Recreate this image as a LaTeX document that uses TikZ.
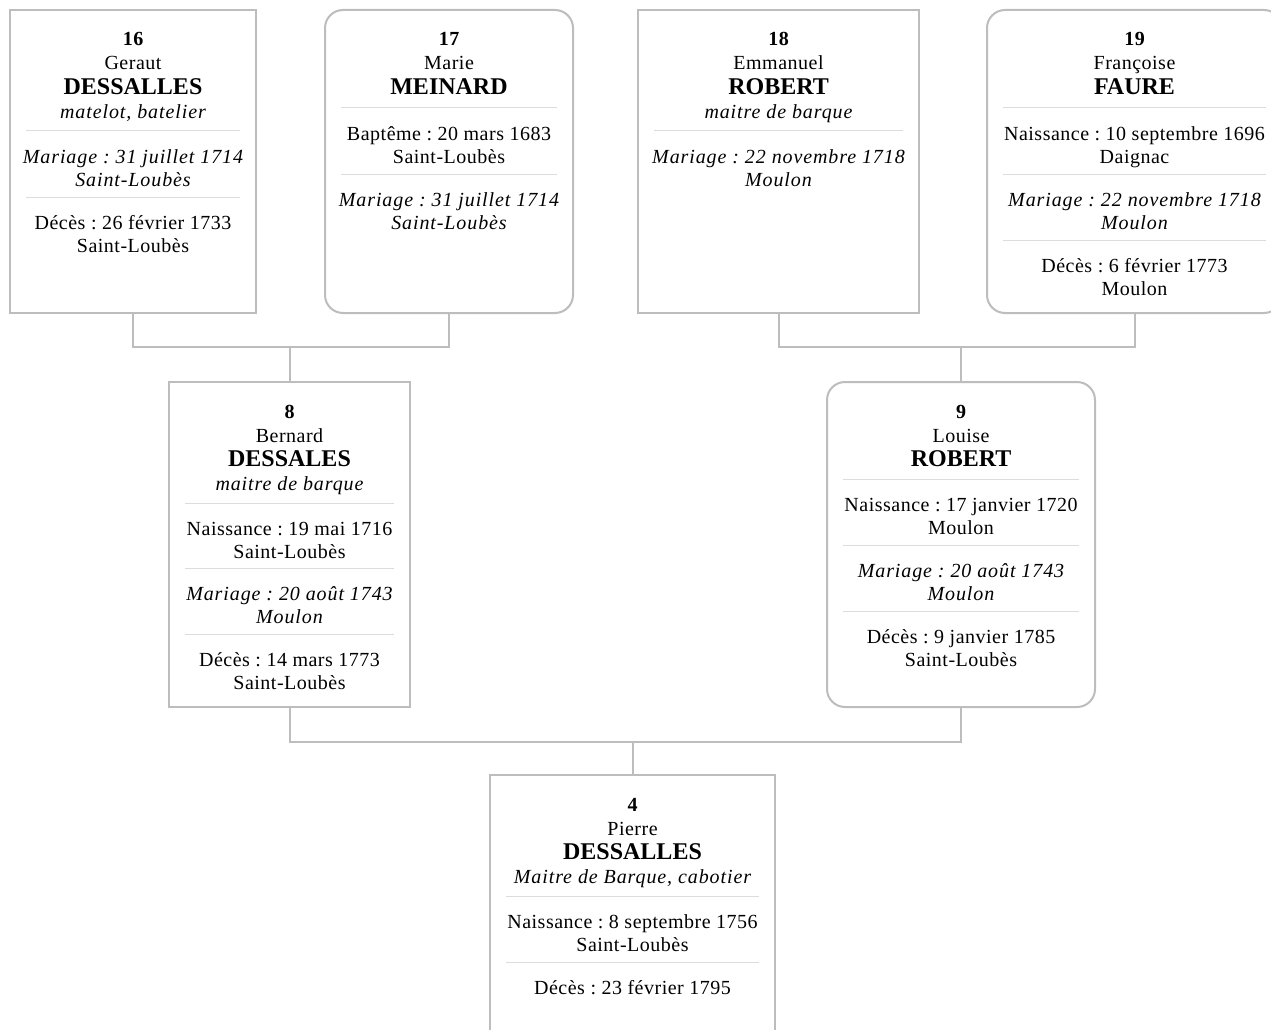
\documentclass[tikz,border=0pt]{standalone}
\usepackage{fontspec}
\setmainfont{Liberation Serif}[LetterSpace=2.5, ItalicFeatures={LetterSpace=4.5}]
\newfontfamily\plainserif{Liberation Serif}
\frenchspacing
\definecolor{boxgrey}{HTML}{BDBDBD}
\definecolor{divgrey}{HTML}{DCDCDC}
\definecolor{txtcol}{HTML}{000000}
\tikzset{
  card/.style={draw=boxgrey, line width=2pt, fill=white, inner sep=0pt, outer sep=0pt, anchor=north west},
  roundcard/.style={card, rounded corners=18pt},
  link/.style={draw=boxgrey, line width=2pt},
  divider/.style={draw=divgrey, line width=1pt},
  txt/.style={anchor=base, inner sep=0pt, text=txtcol, font=\fontsize{20}{22}\selectfont},
  num/.style={txt, font=\fontsize{20}{22}\selectfont\bfseries},
  surname/.style={txt, font=\plainserif\fontsize{24}{26}\selectfont\bfseries},
  ital/.style={txt, font=\fontsize{20}{22}\selectfont\itshape},
}
% card: id, style, xl, ytop, xr, ybot
\newcommand\card[6]{\node[#2, minimum width={#5-#3}, minimum height={#6-#4}] (#1) at (#3,#4) {};}
% header: id, cx, ytop, number, first, last
\newcommand\head[6]{%
  \node[num] (#1-num) at (#2,#3+36) {#4};
  \node[txt] (#1-first) at (#2,#3+60) {#5};
  \node[surname] (#1-last) at (#2,#3+84.5) {#6};}
% occupation: id, cx, ytop, text
\newcommand\occ[4]{\node[ital] (#1-occ) at (#2,#3+108.5) {#4};}
% event: id, xl, xr, divider y, style, line1, line2
\newcommand\evt[7]{%
  \draw[divider] (#2+16,#4) -- (#3-16,#4);
  \node[#5] (#1a) at ({(#2+#3)/2},#4+32) {#6};
  \node[#5] (#1b) at ({(#2+#3)/2},#4+55) {#7};}
\begin{document}
\begin{tikzpicture}[x=1pt,y=-1pt]
\useasboundingbox (0,0) rectangle (1271,1030);
% ---- generation 16-19
\card{b16}{card}{10}{10}{256}{313}
\head{b16}{133}{10}{16}{Geraut}{DESSALLES}
\occ{b16}{133}{10}{matelot, batelier}
\evt{b16e1}{10}{256}{131}{ital}{Mariage : 31 juillet 1714}{Saint-Loubès}
\evt{b16e2}{10}{256}{197}{txt}{Décès : 26 février 1733}{Saint-Loubès}

\card{b17}{roundcard}{325}{10}{573}{313}
\head{b17}{449}{10}{17}{Marie}{MEINARD}
\evt{b17e1}{325}{573}{108}{txt}{Baptême : 20 mars 1683}{Saint-Loubès}
\evt{b17e2}{325}{573}{174}{ital}{Mariage : 31 juillet 1714}{Saint-Loubès}

\card{b18}{card}{638}{10}{919}{313}
\head{b18}{778.5}{10}{18}{Emmanuel}{ROBERT}
\occ{b18}{778.5}{10}{maitre de barque}
\evt{b18e1}{638}{919}{131}{ital}{Mariage : 22 novembre 1718}{Moulon}

\card{b19}{roundcard}{987}{10}{1282}{313}
\head{b19}{1134.5}{10}{19}{Françoise}{FAURE}
\evt{b19e1}{987}{1282}{108}{txt}{Naissance : 10 septembre 1696}{Daignac}
\evt{b19e2}{987}{1282}{174}{ital}{Mariage : 22 novembre 1718}{Moulon}
\evt{b19e3}{987}{1282}{240}{txt}{Décès : 6 février 1773}{Moulon}

% ---- generation 8-9
\card{b8}{card}{169}{382}{410}{707}
\head{b8}{289.5}{382}{8}{Bernard}{DESSALES}
\occ{b8}{289.5}{382}{maitre de barque}
\evt{b8e1}{169}{410}{503}{txt}{Naissance : 19 mai 1716}{Saint-Loubès}
\evt{b8e2}{169}{410}{568}{ital}{Mariage : 20 août 1743}{Moulon}
\evt{b8e3}{169}{410}{634}{txt}{Décès : 14 mars 1773}{Saint-Loubès}

\card{b9}{roundcard}{827}{382}{1095}{707}
\head{b9}{961}{382}{9}{Louise}{ROBERT}
\evt{b9e1}{827}{1095}{479}{txt}{Naissance : 17 janvier 1720}{Moulon}
\evt{b9e2}{827}{1095}{545}{ital}{Mariage : 20 août 1743}{Moulon}
\evt{b9e3}{827}{1095}{611}{txt}{Décès : 9 janvier 1785}{Saint-Loubès}

% ---- generation 4
\card{b4}{card}{490}{775}{775}{1060}
\head{b4}{632.5}{775}{4}{Pierre}{DESSALLES}
\occ{b4}{632.5}{775}{Maitre de Barque, cabotier}
\evt{b4e1}{490}{775}{896}{txt}{Naissance : 8 septembre 1756}{Saint-Loubès}
\evt{b4e2}{490}{775}{962}{txt}{Décès : 23 février 1795}{}

% ---- connectors
\coordinate (j1) at (289.5,347);
\coordinate (j2) at (961,347);
\coordinate (j3) at (632.5,742);
\draw[link] (b16.south) |- (j1) -| (b17.south);
\draw[link] (j1) -- (b8.north);
\draw[link] (b18.south) |- (j2) -| (b19.south);
\draw[link] (j2) -- (b9.north);
\draw[link] (b8.south) |- (j3) -| (b9.south);
\draw[link] (j3) -- (b4.north);
\end{tikzpicture}
\end{document}
